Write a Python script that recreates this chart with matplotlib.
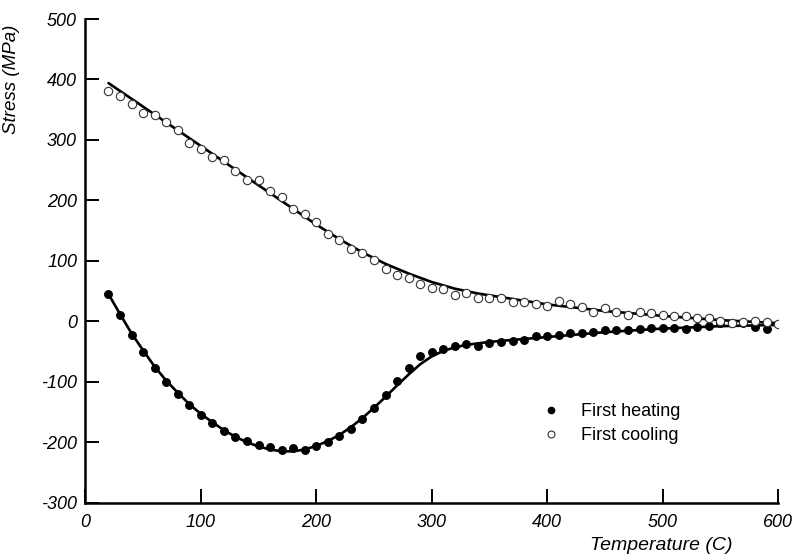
import matplotlib
matplotlib.use("Agg")
import matplotlib.pyplot as plt
from matplotlib.lines import Line2D

# ---- data ----
heat_T = [20, 30, 40, 50, 60, 70, 80, 90, 100, 110, 120, 130, 140, 150, 160, 170, 180, 190,
          200, 210, 220, 230, 240, 250, 260, 270, 280, 290, 300, 310, 320, 330, 340, 350,
          360, 370, 380, 390, 400, 410, 420, 430, 440, 450, 460, 470, 480, 490, 500, 510,
          520, 530, 540, 550, 560, 570, 580, 590]
heat_S = [45, 11, -23, -50, -78, -101, -120, -139, -155, -168, -182, -192, -198, -204, -208,
          -213, -210, -212, -206, -199, -190, -178, -161, -143, -122, -98, -77, -58, -51, -45,
          -40, -38, -40, -36, -35, -33, -31, -25, -25, -22, -20, -19, -18, -15, -15, -14, -13,
          -11, -11, -11, -12, -9, -7, -3, -3, -3, -9, -13]

cool_T = [20, 30, 40, 50, 60, 70, 80, 90, 100, 110, 120, 130, 140, 150, 160, 170, 180, 190,
          200, 210, 220, 230, 240, 250, 260, 270, 280, 290, 300, 310, 320, 330, 340, 350,
          360, 370, 380, 390, 400, 410, 420, 430, 440, 450, 460, 470, 480, 490, 500, 510,
          520, 530, 540, 550, 560, 570, 580, 590, 600]
cool_S = [381, 372, 359, 345, 342, 329, 317, 295, 285, 272, 266, 248, 234, 233, 215, 206, 185,
          178, 165, 145, 134, 120, 113, 102, 87, 77, 71, 61, 55, 53, 44, 47, 39, 39, 39, 32, 32,
          29, 25, 33, 28, 24, 15, 22, 15, 11, 16, 13, 11, 8, 8, 6, 6, 0, -3, -1, 0, -1, -5]

heat_fit_T = [20, 30, 40, 50, 60, 70, 80, 90, 100, 110, 120, 130, 140, 150, 160, 170, 180,
              190, 200, 210, 220, 230, 240, 250, 260, 270, 280, 290, 300, 310, 320, 330, 350,
              400, 450, 500, 550, 600]
heat_fit_S = [45, 12, -20, -48, -75, -98, -118, -137, -153, -167, -180, -191, -200, -207, -212,
              -215, -215, -212, -206, -198, -188, -175, -160, -143, -125, -106, -88, -71, -58,
              -49, -43, -39, -34, -26, -18, -12, -8, -6]

cool_fit_T = [20, 40, 60, 80, 100, 120, 140, 160, 180, 200, 220, 240, 260, 280, 300, 320, 340,
              360, 380, 400, 450, 500, 550, 600]
cool_fit_S = [394, 368, 342, 316, 290, 264, 238, 212, 186, 160, 136, 114, 95, 79, 65, 54, 46,
              40, 34, 28, 17, 9, 2, -3]

x_ticks = [0, 100, 200, 300, 400, 500, 600]
y_ticks = [-300, -200, -100, 0, 100, 200, 300, 400, 500]

# ---- plot ----
fig = plt.figure(figsize=(7.98, 5.59), dpi=100)
ax = fig.add_axes([0.107, 0.1007, 0.868, 0.8653])

ax.plot(heat_fit_T, heat_fit_S, color="black", lw=1.9, solid_capstyle="round", zorder=2)
ax.plot(cool_fit_T, cool_fit_S, color="black", lw=1.9, solid_capstyle="round", zorder=2)
ax.plot(heat_T, heat_S, "o", ms=5.4, color="black", zorder=3)
ax.plot(cool_T, cool_S, "o", ms=6, mfc="white", mec="#333333", mew=0.8, zorder=3)

ax.set_xlim(0, 600)
ax.set_ylim(-300, 500)
ax.set_xticks(x_ticks)
ax.set_yticks(y_ticks)

for s in ["top", "right"]:
    ax.spines[s].set_visible(False)
for s in ["left", "bottom"]:
    ax.spines[s].set_linewidth(1.8)

tickfont = dict(family="Liberation Sans", style="italic", size=13)
ax.set_xticklabels([str(v) for v in x_ticks], fontdict=tickfont)
ax.set_yticklabels([str(v) for v in y_ticks], fontdict=tickfont)
ax.tick_params(axis="both", direction="in", length=10, width=1.4)
ax.tick_params(axis="y", pad=6)
ax.tick_params(axis="x", pad=8)

ax.set_ylabel("Stress (MPa)", family="Liberation Sans", style="italic", size=13.5)
ax.yaxis.set_label_coords(-0.094, 0.876)
ax.set_xlabel("Temperature (C)", family="Liberation Sans", style="italic", size=14)
ax.xaxis.set_label_coords(0.832, -0.07)

handles = [Line2D([], [], ls="none", marker="o", ms=4.5, color="black"),
           Line2D([], [], ls="none", marker="o", ms=5, mfc="white", mec="#333333", mew=0.8)]
ax.legend(handles, ["First heating", "First cooling"], loc="center left",
          bbox_to_anchor=(0.635, 0.163), frameon=False, handlelength=1.0,
          handletextpad=1.2, labelspacing=0.4,
          prop=dict(family="Liberation Sans", size=13))

fig.savefig("out.png", dpi=100)
